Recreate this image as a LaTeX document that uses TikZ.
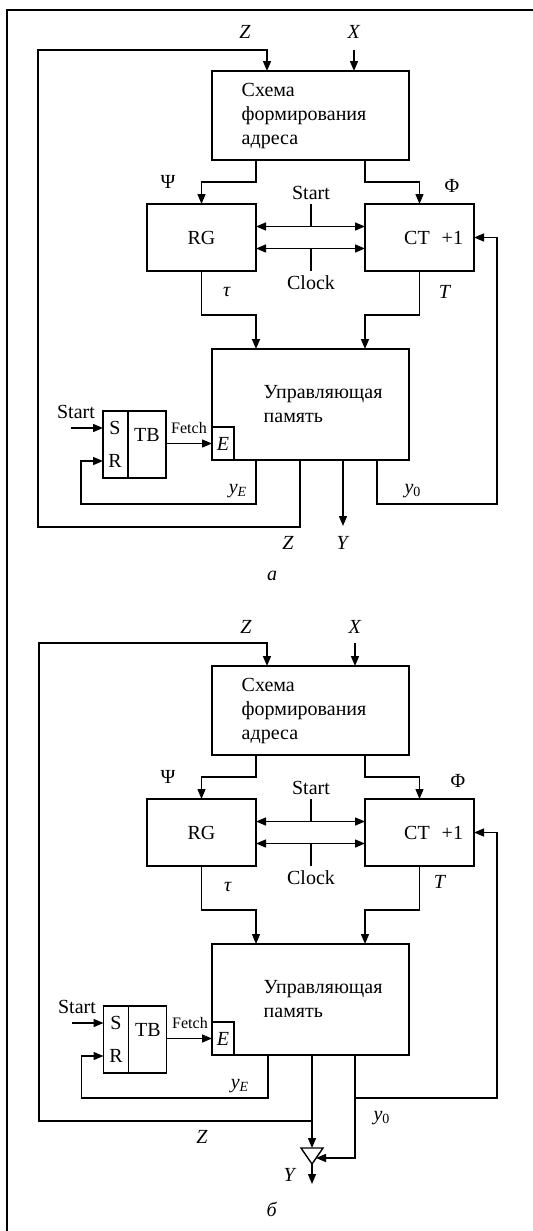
\documentclass[tikz,border=0pt]{standalone}
\usepackage{fontspec}
\setmainfont{Liberation Serif}
\usepackage{tikz}
\usetikzlibrary{arrows.meta, positioning}

\begin{document}
\begin{tikzpicture}[
    x=0.5pt, y=-0.5pt, line width=0.7pt,
    box/.style={draw, outer sep=0pt, inner sep=0pt},
    lbl/.style={inner sep=0pt},
    sig/.style={-{Triangle[length=5pt, width=4pt]}},
    dsig/.style={{Triangle[length=5pt, width=4pt]}-{Triangle[length=5pt, width=4pt]}}
]
    \useasboundingbox (0,0) rectangle (533,1231);
    % Frame
    \draw[line width=1.1pt] (7,1231) -- (7,10) -- (533,10);

    % ---------- Panel a ----------
    % Blocks
    \node[box, minimum width=98.5pt, minimum height=44.5pt] (addra) at (310.5,115.5) {};
    \node[lbl, anchor=west, align=left] (addrtxta) at (241,116) {Схема\\формирования\\адреса};
    \node[box, minimum width=54.5pt, minimum height=33.5pt] (rga) at (201.5,237.5) {RG};
    \node[box, minimum width=54.5pt, minimum height=33.5pt, text width=43.5pt,
          inner xsep=5.5pt, align=right] (cta) at (419.5,237.5) {CT\hspace{6pt}+1};
    \node[box, minimum width=98.5pt, minimum height=55.5pt] (mema) at (310.5,404.5) {};
    \node[lbl, anchor=west, align=left] (memtxta) at (263,404.5) {Управляющая\\память};
    \node[box, anchor=south west, minimum width=11pt, minimum height=16.5pt] (ea) at (mema.south west) {\textit{E}};
    \node[box, minimum width=12.5pt, minimum height=33.5pt] (sra) at (115.5,444.5) {};
    \node[box, minimum width=19pt, minimum height=33.5pt, right=0pt of sra] (tba) {};
    \node[lbl] (sa) at (115,428) {S};
    \node[lbl] (ra) at (115,461) {R};
    \node[lbl] (tbtxta) at (147,435) {TB};

    % Labels
    \node[lbl] (zina) at (245,32) {\textit{Z}};
    \node[lbl] (xina) at (354,32) {\textit{X}};
    \node[lbl] (psia) at (168,182) {Ψ};
    \node[lbl] (phia) at (452,186) {Φ};
    \node[lbl] (starta) at (311,193) {Start};
    \node[lbl] (clocka) at (311,283) {Clock};
    \node[lbl] (taua) at (227,292) {\textit{τ}};
    \node[lbl] (tta) at (445,292) {\textit{T}};
    \node[lbl] (startsa) at (76,412) {Start};
    \node[lbl, font=\footnotesize] (fetcha) at (189,428) {Fetch};
    \node[lbl] (yea) at (238,491) {\textit{y}\textsubscript{\textit{E}}};
    \node[lbl] (y0a) at (413,491) {\textit{y}\textsubscript{0}};
    \node[lbl] (zouta) at (288,543) {\textit{Z}};
    \node[lbl] (youtlbla) at (343,543) {\textit{Y}};
    \node[lbl] (capa) at (272,576) {\textit{а}};

    % Connectors
    \coordinate (xsrca) at (354,50);
    \draw[sig] (xsrca) -- (xsrca |- addra.north);
    \draw[sig] (addra.south -| rga.east) -- ++(0,22) -| (rga.north);
    \draw[sig] (addra.south -| cta.west) -- ++(0,22) -| (cta.north);
    \draw[sig] (rga.south) -- ++(0,44) -| (mema.north -| rga.east);
    \draw[sig] (cta.south) -- ++(0,44) -| (mema.north -| cta.west);
    \coordinate (upla) at ([yshift=5.5pt]rga.east);
    \coordinate (lowla) at ([yshift=-5.5pt]rga.east);
    \draw[dsig] (upla) -- (upla -| cta.west);
    \draw[dsig] (lowla) -- (lowla -| cta.west);
    \draw (starta |- rga.north) -- (starta |- upla);
    \draw (clocka |- rga.south) -- (clocka |- lowla);
    \coordinate (startina) at (71,428);
    \draw[sig] (startina) -- (startina -| sra.west);
    \draw[sig] (ea.west -| tba.east) -- (ea.west);
    \draw[sig] ([xshift=22pt]mema.south west) -- ++(0,44)
        -| ([xshift=-11pt, yshift=8.5pt]sra.south west) -- ([yshift=8.5pt]sra.south west);
    \draw[sig] ([xshift=44pt]mema.south west) -- ++(0,67) -- ++(-262,0) -- ++(0,-477)
        -| ([xshift=27.5pt]addra.north west);
    \draw[sig] ([xshift=65.5pt]mema.south west) -- ++(0,66) coordinate (youta);
    \draw[sig] ([xshift=-16pt]mema.south east) -- ++(0,44) -- ++(120,0) |- (cta.east);

    % ---------- Panel b ----------
    \begin{scope}[yshift=-297.5pt]
    % Blocks
    \node[box, minimum width=98.5pt, minimum height=44.5pt] (addrb) at (310.5,115.5) {};
    \node[lbl, anchor=west, align=left] (addrtxtb) at (241,116) {Схема\\формирования\\адреса};
    \node[box, minimum width=54.5pt, minimum height=33.5pt] (rgb) at (201.5,237.5) {RG};
    \node[box, minimum width=54.5pt, minimum height=33.5pt, text width=43.5pt,
          inner xsep=5.5pt, align=right] (ctb) at (419.5,237.5) {CT\hspace{6pt}+1};
    \node[box, minimum width=98.5pt, minimum height=55.5pt] (memb) at (310.5,404.5) {};
    \node[lbl, anchor=west, align=left] (memtxtb) at (263,404.5) {Управляющая\\память};
    \node[box, anchor=south west, minimum width=11pt, minimum height=16.5pt] (eb) at (memb.south west) {\textit{E}};
    \node[box, minimum width=12.5pt, minimum height=33.5pt] (srb) at (116,444.5) {};
    \node[box, minimum width=19pt, minimum height=33.5pt, right=0pt of srb] (tbb) {};
    \node[lbl] (sb) at (116,428) {S};
    \node[lbl] (rb) at (116,461) {R};
    \node[lbl] (tbtxtb) at (148,435) {TB};
    % Buffer
    \coordinate (buftopb) at (312,553);
    \coordinate (bufapexb) at (312,569);
    \coordinate (bufinb) at (316,563);
    \draw (301,553) -- (323,553) -- (bufapexb) -- cycle;

    % Labels
    \node[lbl] (zinb) at (246,32) {\textit{Z}};
    \node[lbl] (xinb) at (355,32) {\textit{X}};
    \node[lbl] (psib) at (168,182) {Ψ};
    \node[lbl] (phib) at (458,186) {Φ};
    \node[lbl] (startb) at (311,193) {Start};
    \node[lbl] (clockb) at (311,283) {Clock};
    \node[lbl] (taub) at (228,292) {\textit{τ}};
    \node[lbl] (ttb) at (440,287) {\textit{T}};
    \node[lbl] (startsb) at (77,412) {Start};
    \node[lbl, font=\footnotesize] (fetchb) at (190,428) {Fetch};
    \node[lbl] (yeb) at (240,491) {\textit{y}\textsubscript{\textit{E}}};
    \node[lbl] (y0b) at (382,523) {\textit{y}\textsubscript{0}};
    \node[lbl] (zoutb) at (202,542) {\textit{Z}};
    \node[lbl] (youtlblb) at (290,580) {\textit{Y}};
    \node[lbl] (capb) at (272,614) {\textit{б}};

    % Connectors
    \coordinate (xsrcb) at (355,48);
    \draw[sig] (xsrcb) -- (xsrcb |- addrb.north);
    \draw[sig] (addrb.south -| rgb.east) -- ++(0,22) -| (rgb.north);
    \draw[sig] (addrb.south -| ctb.west) -- ++(0,22) -| (ctb.north);
    \draw[sig] (rgb.south) -- ++(0,44) -| (memb.north -| rgb.east);
    \draw[sig] (ctb.south) -- ++(0,44) -| (memb.north -| ctb.west);
    \coordinate (uplb) at ([yshift=5.5pt]rgb.east);
    \coordinate (lowlb) at ([yshift=-5.5pt]rgb.east);
    \draw[dsig] (uplb) -- (uplb -| ctb.west);
    \draw[dsig] (lowlb) -- (lowlb -| ctb.west);
    \draw (startb |- rgb.north) -- (startb |- uplb);
    \draw (clockb |- rgb.south) -- (clockb |- lowlb);
    \coordinate (startinb) at (72,428);
    \draw[sig] (startinb) -- (startinb -| srb.west);
    \draw[sig] (eb.west -| tbb.east) -- (eb.west);
    \draw[sig] ([xshift=28pt]memb.south west) -- ++(0,43)
        -| ([xshift=-11pt, yshift=8.5pt]srb.south west) -- ([yshift=8.5pt]srb.south west);
    \draw[sig] ([xshift=50pt]memb.south west) -- (buftopb);
    \draw[sig] ([xshift=50pt, yshift=-33pt]memb.south west) -- ++(-273,0) -- ++(0,-478)
        -| ([xshift=27.5pt]addrb.north west);
    \draw[sig] ([xshift=-27pt]memb.south east) |- (bufinb);
    \draw[sig] ([xshift=-27pt, yshift=-21.5pt]memb.south east) -- ++(142,0) |- (ctb.east);
    \draw[sig] (bufapexb) -- ++(0,20) coordinate (youtb);
    \end{scope}
\end{tikzpicture}
\end{document}
